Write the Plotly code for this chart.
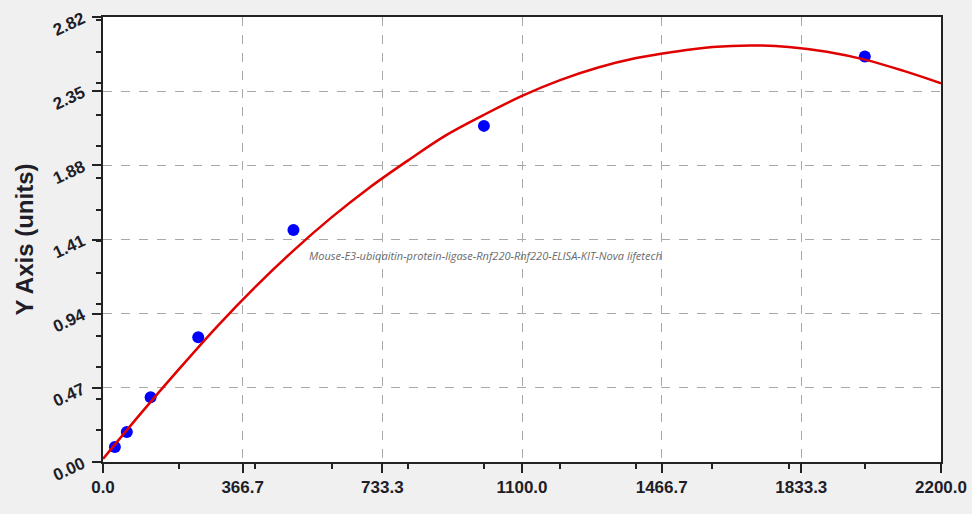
import plotly.graph_objects as go

# standards (concentration vs OD)
conc = [31.25, 62.5, 125, 250, 500, 1000, 2000]
od = [0.095, 0.19, 0.41, 0.79, 1.47, 2.13, 2.57]

# fitted curve
curve_x = [0, 100, 200, 300, 400, 500, 600, 700, 800, 900, 1000, 1100,
           1200, 1300, 1400, 1500, 1600, 1700, 1800, 1900, 2000, 2100, 2200]
curve_y = [0.02, 0.31, 0.59, 0.86, 1.11, 1.34, 1.55, 1.74, 1.91, 2.07, 2.20, 2.32,
           2.42, 2.50, 2.56, 2.60, 2.63, 2.64, 2.63, 2.60, 2.55, 2.48, 2.40]

x_ticks = [0, 366.7, 733.3, 1100.0, 1466.7, 1833.3, 2200.0]
x_labels = ["0.0", "366.7", "733.3", "1100.0", "1466.7", "1833.3", "2200.0"]
y_ticks = [0.00, 0.47, 0.94, 1.41, 1.88, 2.35, 2.82]
y_labels = ["0.00", "0.47", "0.94", "1.41", "1.88", "2.35", "2.82"]

fig = go.Figure()
fig.add_trace(go.Scatter(x=conc, y=od, mode="markers",
                         marker=dict(color="#0000ff", size=12)))
fig.add_trace(go.Scatter(x=curve_x, y=curve_y, mode="lines",
                         line=dict(color="#e00000", width=2.5, shape="spline", smoothing=1.0)))

tick_font = dict(family="Liberation Sans", size=17, color="#1e1e28")
axis_common = dict(showline=True, linecolor="#222222", linewidth=1.5, mirror=True,
                   ticks="outside", ticklen=9, tickcolor="#222222", tickwidth=1.5,
                   showgrid=True, gridcolor="#a8a8a8", griddash="dash", gridwidth=1,
                   zeroline=False, tickfont=tick_font,
                   minor=dict(ticks="outside", ticklen=5, tickcolor="#222222",
                              nticks=4, showgrid=False))

fig.update_xaxes(range=[0, 2200], tickvals=x_ticks, ticktext=["<b>%s</b>" % t for t in x_labels],
                 **axis_common)
fig.update_yaxes(range=[0, 2.82], tickvals=y_ticks, ticktext=["<b>%s</b>" % t for t in y_labels],
                 tickangle=-25, ticklabelstandoff=6,
                 title=dict(text="<b>Y Axis (units)</b>", standoff=10,
                            font=dict(family="Liberation Sans", size=24, color="#1e1e28")),
                 **axis_common)

fig.add_annotation(text="<i>Mouse-E3-ubiqaitin-protein-ligase-Rnf220-Rnf220-ELISA-KIT-Nova lifetech</i>",
                   xref="paper", yref="paper", x=0.456, y=0.465, showarrow=False,
                   font=dict(family="Open Sans", size=11, color="#6a6a6a"))

fig.update_layout(width=972, height=514, showlegend=False,
                  paper_bgcolor="#f0f0f0", plot_bgcolor="#ffffff",
                  margin=dict(l=103, r=31, t=17, b=52, autoexpand=False))

fig.write_html("out.html", config={"displayModeBar": False},
               post_script="document.body.style.margin='0';")
